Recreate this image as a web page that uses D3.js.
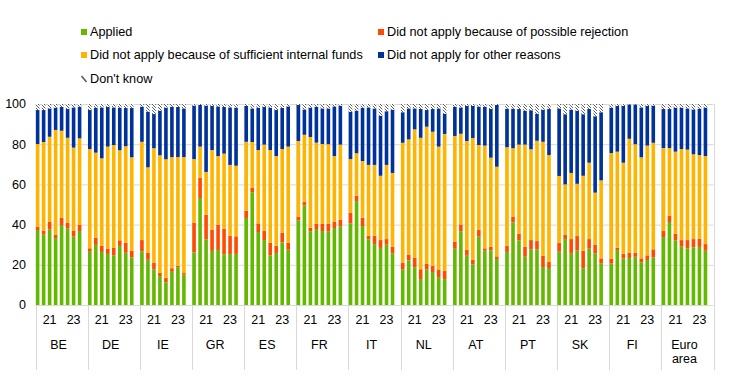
<!DOCTYPE html>
<html>
<head>
<meta charset="utf-8">
<script src="https://cdn.jsdelivr.net/npm/d3@7"></script>
<style>
  html, body { margin: 0; padding: 0; background: #fff; }
  svg { display: block; font-family: "Liberation Sans", Arial, sans-serif; }
</style>
</head>
<body>
<svg id="chart" width="741" height="382"></svg>
<script>
// ---------- data ----------
const countries = ["BE","DE","IE","GR","ES","FR","IT","NL","AT","PT","SK","FI","Euro area"];
const periods = ["20H1","20H2","21H1","21H2","22H1","22H2","23H1","23H2"];
const periodTickLabels = { "21H1": "21", "23H1": "23" };
const seriesNames = [
  "Applied",
  "Did not apply because of possible rejection",
  "Did not apply because of sufficient internal funds",
  "Did not apply for other reasons",
  "Don't know"
];
const seriesColors = ["#65b800", "#ff4b00", "#ffb400", "#003299", "hatch"];

const applied = {
  "BE": [37.3, 35.0, 37.5, 33.3, 39.8, 38.0, 34.0, 36.8],
  "DE": [26.5, 29.9, 26.4, 25.4, 24.7, 29.4, 26.0, 23.7],
  "IE": [26.7, 22.5, 17.8, 14.4, 11.3, 16.5, 18.8, 15.1],
  "GR": [26.2, 53.2, 32.7, 26.9, 27.4, 25.2, 25.4, 25.4],
  "ES": [43.3, 56.1, 36.3, 32.3, 24.7, 25.9, 31.2, 27.5],
  "FR": [42.1, 49.5, 36.7, 37.8, 36.8, 36.7, 38.3, 39.2],
  "IT": [40.6, 51.7, 39.3, 32.7, 30.3, 28.4, 30.0, 25.7],
  "NL": [17.6, 22.2, 18.8, 12.9, 17.6, 16.4, 13.9, 12.9],
  "AT": [28.0, 36.7, 24.5, 20.2, 34.0, 27.0, 27.2, 22.9],
  "PT": [26.4, 41.1, 32.2, 24.0, 27.7, 27.7, 18.9, 18.4],
  "SK": [26.5, 32.8, 25.5, 27.0, 18.3, 28.0, 25.7, 20.6],
  "FI": [20.6, 27.4, 23.1, 23.4, 24.0, 21.2, 22.4, 23.7],
  "Euro area": [33.8, 41.3, 32.2, 29.0, 28.2, 28.7, 28.9, 27.0]
};
const possibleRejection = {
  "BE": [1.7, 2.0, 3.8, 1.7, 3.5, 2.8, 3.1, 3.0],
  "DE": [1.7, 3.6, 3.1, 2.6, 3.7, 2.8, 5.0, 3.3],
  "IE": [5.6, 3.5, 3.3, 1.7, 2.3, 1.8, 0.7, 0.8],
  "GR": [14.8, 10.1, 12.2, 10.6, 12.6, 12.8, 9.1, 8.8],
  "ES": [3.6, 2.1, 4.3, 4.5, 6.3, 3.6, 4.8, 3.5],
  "FR": [1.8, 1.9, 1.8, 2.6, 3.5, 3.6, 3.0, 3.1],
  "IT": [5.2, 2.7, 4.1, 1.8, 4.2, 3.9, 2.8, 3.2],
  "NL": [3.5, 2.7, 4.6, 4.9, 2.8, 3.0, 3.5, 4.0],
  "AT": [3.5, 3.4, 2.9, 2.3, 3.3, 1.2, 1.8, 1.3],
  "PT": [3.1, 2.7, 3.3, 5.0, 4.6, 4.1, 5.5, 3.1],
  "SK": [4.5, 2.2, 7.3, 7.3, 8.7, 4.8, 4.2, 2.6],
  "FI": [2.5, 1.1, 2.4, 2.5, 2.0, 2.0, 2.3, 4.0],
  "Euro area": [3.0, 3.1, 3.3, 3.3, 4.1, 4.1, 4.1, 3.3]
};
const internalFunds = {
  "BE": [41.1, 44.1, 42.4, 52.1, 43.4, 42.4, 41.2, 43.1],
  "DE": [49.4, 42.3, 43.5, 50.8, 51.2, 44.8, 48.0, 46.5],
  "IE": [48.9, 42.5, 56.9, 58.4, 58.9, 55.3, 54.1, 57.7],
  "GR": [31.6, 15.5, 21.3, 39.6, 34.1, 37.3, 35.2, 35.1],
  "ES": [34.3, 22.9, 36.5, 43.0, 46.1, 44.6, 41.6, 47.8],
  "FR": [37.7, 33.3, 45.1, 40.4, 39.8, 39.7, 32.8, 37.5],
  "IT": [26.8, 21.1, 28.2, 35.2, 35.2, 32.0, 36.9, 36.8],
  "NL": [59.6, 57.5, 64.0, 65.4, 68.3, 66.8, 61.4, 68.2],
  "AT": [52.6, 45.1, 54.2, 60.6, 42.3, 51.1, 44.3, 44.6],
  "PT": [49.0, 34.2, 44.3, 50.8, 45.2, 49.9, 56.8, 53.1],
  "SK": [33.2, 25.0, 32.9, 26.0, 37.3, 38.0, 26.0, 38.8],
  "FI": [52.5, 47.8, 45.3, 56.8, 54.0, 50.3, 54.6, 53.0],
  "Euro area": [41.3, 33.7, 40.8, 45.3, 45.0, 42.2, 41.6, 43.8]
};
const otherReasons = {
  "BE": [16.9, 15.9, 14.1, 11.1, 11.8, 14.3, 20.0, 15.8],
  "DE": [19.4, 22.4, 25.3, 19.7, 18.7, 21.2, 19.0, 24.5],
  "IE": [17.5, 27.7, 17.0, 22.2, 25.7, 25.1, 24.9, 24.2],
  "GR": [26.6, 20.7, 33.0, 21.9, 24.7, 23.2, 28.6, 28.9],
  "ES": [17.8, 16.7, 21.1, 18.7, 21.1, 22.9, 20.4, 20.0],
  "FR": [17.9, 12.6, 14.6, 17.9, 17.7, 17.8, 24.7, 19.4],
  "IT": [23.6, 21.2, 26.6, 28.6, 28.1, 29.9, 26.7, 31.5],
  "NL": [15.2, 15.4, 10.4, 14.3, 8.3, 11.3, 19.0, 10.1],
  "AT": [14.6, 13.1, 17.4, 15.9, 19.1, 19.4, 24.2, 30.7],
  "PT": [19.2, 19.7, 17.7, 16.9, 19.4, 13.5, 16.0, 22.9],
  "SK": [33.6, 34.9, 31.5, 36.4, 30.6, 26.7, 38.0, 33.9],
  "FI": [22.6, 22.7, 28.2, 17.1, 19.8, 24.8, 19.7, 18.5],
  "Euro area": [19.4, 19.4, 21.9, 20.6, 20.5, 22.3, 23.1, 24.1]
};
const dontKnow = {
  "BE": [3.0, 3.0, 2.2, 1.8, 1.5, 2.5, 1.7, 1.3],
  "DE": [3.0, 1.8, 1.7, 1.5, 1.7, 1.8, 2.0, 2.0],
  "IE": [1.3, 3.8, 5.0, 3.3, 1.8, 1.3, 1.5, 2.2],
  "GR": [0.8, 0.5, 0.8, 1.0, 1.2, 1.5, 1.7, 1.8],
  "ES": [1.0, 2.2, 1.8, 1.5, 1.8, 3.0, 2.0, 1.2],
  "FR": [0.5, 2.7, 1.8, 1.3, 2.2, 2.2, 1.2, 0.8],
  "IT": [3.8, 3.3, 1.8, 1.7, 2.2, 5.8, 3.6, 2.8],
  "NL": [4.1, 2.2, 2.2, 2.5, 3.0, 2.5, 2.2, 4.8],
  "AT": [1.3, 1.7, 1.0, 1.0, 1.3, 1.3, 2.5, 0.5],
  "PT": [2.3, 2.3, 2.5, 3.3, 3.1, 4.8, 2.8, 2.5],
  "SK": [2.2, 5.1, 2.8, 3.3, 5.1, 2.5, 6.1, 4.1],
  "FI": [1.8, 1.0, 1.0, 0.2, 0.2, 1.7, 1.0, 0.8],
  "Euro area": [2.5, 2.5, 1.8, 1.8, 2.2, 2.7, 2.3, 1.8]
};
const yTicks = [0, 20, 40, 60, 80, 100];

// ---------- build ----------
const seriesData = [applied, possibleRejection, internalFunds, otherReasons, dontKnow];
const rows = [];
countries.forEach(c => {
  periods.forEach((p, i) => {
    const r = { country: c, period: p };
    seriesNames.forEach((s, k) => { r[s] = seriesData[k][c][i]; });
    rows.push(r);
  });
});
const stacked = d3.stack().keys(seriesNames)(rows);

const svg = d3.select("#chart");
const margin = { left: 35.5, right: 741 - 713.5, top: 104, bottom: 382 - 305 };
const x0 = d3.scaleBand().domain(countries).range([margin.left, 741 - margin.right]).padding(0);
const x1 = d3.scaleBand().domain(periods).range([0, x0.bandwidth()])
  .paddingInner(0.4).paddingOuter(0.55).align(0.05);
const y = d3.scaleLinear().domain([0, 100]).range([305, 104]);

// hatch pattern
const defs = svg.append("defs");
const pat = defs.append("pattern").attr("id", "hatch")
  .attr("patternUnits", "userSpaceOnUse").attr("width", 3).attr("height", 3);
pat.append("rect").attr("width", 3).attr("height", 3).attr("fill", "#fff");
pat.append("path").attr("d", "M-1,-1 L4,4 M-1,2 L1,4 M2,-1 L4,1")
  .attr("stroke", "#595959").attr("stroke-width", 1);

const gridColor = "#d9d9d9";
// horizontal gridlines
svg.append("g").selectAll("line").data(yTicks).join("line")
  .attr("x1", margin.left).attr("x2", 741 - margin.right)
  .attr("y1", d => y(d) + 0.5).attr("y2", d => y(d) + 0.5)
  .attr("stroke", gridColor).attr("stroke-width", 1);
// vertical separators
const seps = countries.map(c => x0(c)).concat([x0(countries[countries.length - 1]) + x0.bandwidth()]);
svg.append("g").selectAll("line").data(seps).join("line")
  .attr("x1", d => Math.round(d) + 0.5).attr("x2", d => Math.round(d) + 0.5)
  .attr("y1", y(100)).attr("y2", 370)
  .attr("stroke", gridColor).attr("stroke-width", 1);

// bars
const fills = seriesColors.map(c => c === "hatch" ? "url(#hatch)" : c);
svg.append("g").selectAll("g").data(stacked).join("g")
  .attr("fill", (d, i) => fills[i])
  .selectAll("rect").data(d => d).join("rect")
  .attr("x", d => x0(d.data.country) + x1(d.data.period))
  .attr("width", x1.bandwidth())
  .attr("y", d => y(d[1]))
  .attr("height", d => Math.max(0, y(d[0]) - y(d[1])));

// y axis labels
svg.append("g").selectAll("text").data(yTicks).join("text")
  .attr("x", 26).attr("y", d => y(d)).attr("dy", "0.35em")
  .attr("text-anchor", "end").attr("font-size", 12.5).attr("fill", "#000")
  .text(d => d);

// period tick labels
const tickPeriods = Object.keys(periodTickLabels);
const tl = [];
countries.forEach(c => tickPeriods.forEach(p => tl.push({ c, p })));
svg.append("g").selectAll("text").data(tl).join("text")
  .attr("x", d => x0(d.c) + x1(d.p) + x1.bandwidth() / 2)
  .attr("y", 320).attr("dy", "0.35em")
  .attr("text-anchor", "middle").attr("font-size", 12.5).attr("fill", "#000")
  .text(d => periodTickLabels[d.p]);

// country labels
const cl = svg.append("g").selectAll("text").data(countries).join("text")
  .attr("x", d => x0(d) + x0.bandwidth() / 2 - 3)
  .attr("y", 345).attr("text-anchor", "middle")
  .attr("font-size", 12.5).attr("fill", "#000");
cl.each(function(d) {
  const t = d3.select(this);
  const parts = d === "Euro area" ? ["Euro", "area"] : [d];
  parts.forEach((p, i) => {
    t.append("tspan").attr("x", x0(d) + x0.bandwidth() / 2 - 3)
      .attr("dy", i === 0 ? "0.35em" : "1.1em").text(p);
  });
});

// legend
const legendItems = [
  { name: seriesNames[0], fill: fills[0], x: 81, y: 32 },
  { name: seriesNames[1], fill: fills[1], x: 378, y: 32 },
  { name: seriesNames[2], fill: fills[2], x: 81, y: 55 },
  { name: seriesNames[3], fill: fills[3], x: 378, y: 55 },
  { name: seriesNames[4], fill: fills[4], x: 81, y: 79 }
];
const lg = svg.append("g").selectAll("g").data(legendItems).join("g");
lg.filter(d => d.fill !== "url(#hatch)").append("rect")
  .attr("x", d => d.x).attr("y", d => d.y - 3)
  .attr("width", 6).attr("height", 6).attr("fill", d => d.fill);
lg.filter(d => d.fill === "url(#hatch)").append("line")
  .attr("x1", d => d.x + 0.5).attr("y1", d => d.y - 3)
  .attr("x2", d => d.x + 5.5).attr("y2", d => d.y + 3)
  .attr("stroke", "#595959").attr("stroke-width", 1.6);
lg.append("text").attr("x", d => d.x + 9).attr("y", d => d.y).attr("dy", "0.35em")
  .attr("font-size", 12.7).attr("fill", "#000").text(d => d.name);
</script>
</body>
</html>
